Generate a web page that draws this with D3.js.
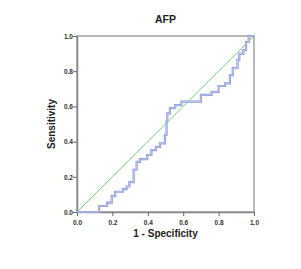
<!DOCTYPE html>
<html>
<head>
<meta charset="utf-8">
<script src="https://cdn.jsdelivr.net/npm/d3@7"></script>
<style>
body { margin: 0; background: #fff; }
text { font-family: "Liberation Sans", Arial, sans-serif; }
</style>
</head>
<body>
<div id="vis"></div>
<script>
// chart values
var title = "AFP";
var xLabel = "1 - Specificity";
var yLabel = "Sensitivity";
var ticks = [0, 0.2, 0.4, 0.6, 0.8, 1.0];

// ROC corner points (1 - specificity, sensitivity)
var fpr = [0, 0.125, 0.125, 0.17, 0.196, 0.215, 0.26, 0.28, 0.296, 0.32, 0.337, 0.356, 0.397, 0.42, 0.446, 0.469, 0.497, 0.506, 0.51, 0.525, 0.555, 0.59, 0.70, 0.76, 0.80, 0.836, 0.864, 0.88, 0.907, 0.917, 0.94, 0.955, 0.97, 1];
var tpr = [0, 0, 0.034, 0.053, 0.09, 0.115, 0.13, 0.145, 0.17, 0.24, 0.285, 0.30, 0.324, 0.352, 0.37, 0.39, 0.4375, 0.513, 0.56, 0.59, 0.607, 0.627, 0.665, 0.683, 0.716, 0.731, 0.778, 0.817, 0.864, 0.90, 0.92, 0.966, 1.0, 1.0];
var refLine = [0, 1];

var width = 301, height = 269;
var x0 = 77, x1 = 254, y0 = 212, y1 = 36;

var svg = d3.select("#vis").append("svg")
    .attr("width", width)
    .attr("height", height);

var x = d3.scaleLinear().domain([0, 1]).range([x0, x1]);
var y = d3.scaleLinear().domain([0, 1]).range([y0, y1]);

// frame (top and right)
svg.append("rect")
    .attr("x", x0).attr("y", y1)
    .attr("width", x1 - x0).attr("height", y0 - y1)
    .attr("fill", "none")
    .attr("stroke", "#a0a0a0")
    .attr("stroke-width", 1.5);

var xAxis = svg.append("g")
    .attr("transform", "translate(0," + y0 + ")")
    .call(d3.axisBottom(x).tickValues(ticks).tickFormat(d3.format(".1f")).tickSize(4).tickSizeOuter(0));
var yAxis = svg.append("g")
    .attr("transform", "translate(" + x0 + ",0)")
    .call(d3.axisLeft(y).tickValues(ticks).tickFormat(d3.format(".1f")).tickSize(4).tickSizeOuter(0));

[xAxis, yAxis].forEach(function(a) {
  a.select(".domain").attr("stroke", "#888").attr("stroke-width", 1.5);
  a.selectAll(".tick line").attr("stroke", "#666");
  a.selectAll(".tick text")
    .attr("fill", "#333")
    .style("font-size", "6.5px")
    .style("font-weight", "bold");
});
xAxis.selectAll(".tick text").attr("dy", "0.9em");
yAxis.selectAll(".tick text").attr("x", -4).attr("dy", "0.35em");

// reference diagonal
svg.append("line")
    .attr("x1", x(refLine[0])).attr("y1", y(refLine[0]))
    .attr("x2", x(refLine[1])).attr("y2", y(refLine[1]))
    .attr("stroke", "#6fd46f")
    .attr("stroke-width", 1);

// ROC curve
var pts = fpr.map(function(d, i) { return [d, tpr[i]]; });
var line = d3.line()
    .x(function(d) { return x(d[0]); })
    .y(function(d) { return y(d[1]); })
    .curve(d3.curveStepAfter);

svg.append("path")
    .attr("d", line(pts))
    .attr("fill", "none")
    .attr("stroke", "#8797da")
    .attr("stroke-width", 2.2);
svg.append("path")
    .attr("d", line(pts))
    .attr("fill", "none")
    .attr("stroke", "#d4daf4")
    .attr("stroke-width", 0.7);

// titles
svg.append("text")
    .attr("x", (x0 + x1) / 2).attr("y", 23)
    .attr("text-anchor", "middle")
    .style("font-size", "10.5px").style("font-weight", "bold")
    .attr("fill", "#222")
    .text(title);
svg.append("text")
    .attr("x", (x0 + x1) / 2).attr("y", 237)
    .attr("text-anchor", "middle")
    .style("font-size", "10px").style("font-weight", "bold")
    .attr("fill", "#222")
    .text(xLabel);
svg.append("text")
    .attr("transform", "translate(55," + ((y0 + y1) / 2) + ") rotate(-90)")
    .attr("text-anchor", "middle")
    .style("font-size", "10px").style("font-weight", "bold")
    .attr("fill", "#222")
    .text(yLabel);
</script>
</body>
</html>
